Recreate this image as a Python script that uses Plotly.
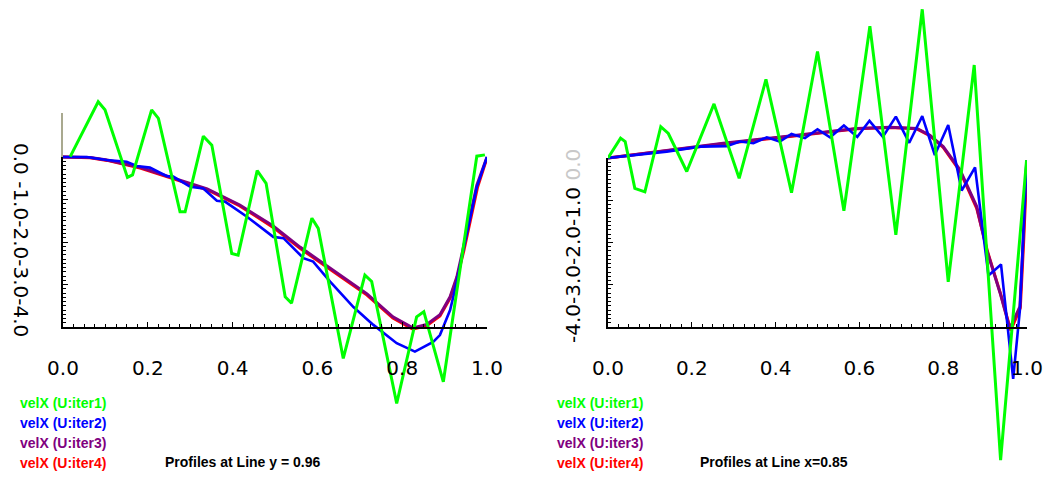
import plotly.graph_objects as go

# ---------------- data: left panel (Profiles at Line y = 0.96) ----------------
L_iter1_x = [0.017, 0.083, 0.099, 0.152, 0.164, 0.209, 0.225, 0.276, 0.288, 0.331, 0.351,
             0.398, 0.413, 0.458, 0.479, 0.524, 0.539, 0.587, 0.602, 0.661, 0.712, 0.728,
             0.787, 0.834, 0.851, 0.897, 0.976, 0.995]
L_iter1_y = [0.01, 1.30, 1.11, -0.48, -0.42, 1.11, 0.91, -1.29, -1.29, 0.49, 0.28,
             -2.27, -2.31, -0.32, -0.62, -3.29, -3.44, -1.44, -1.68, -4.74, -2.78, -2.93,
             -5.80, -3.76, -3.64, -5.29, 0.02, 0.05]

L_iter2_x = [0.0, 0.056, 0.103, 0.150, 0.174, 0.205, 0.245, 0.260, 0.300, 0.331, 0.363,
             0.382, 0.433, 0.496, 0.520, 0.567, 0.590, 0.630, 0.685, 0.732, 0.787, 0.830,
             0.873, 0.889, 0.913, 0.929, 0.944, 0.960, 0.976, 1.0]
L_iter2_y = [0.0, 0.0, -0.07, -0.11, -0.21, -0.25, -0.45, -0.46, -0.70, -0.74, -1.03,
             -1.05, -1.40, -1.88, -1.91, -2.38, -2.46, -2.93, -3.53, -3.95, -4.38, -4.58,
             -4.35, -4.19, -3.60, -2.93, -2.19, -1.48, -0.71, 0.0]

L_iter3_x = [0.0, 0.064, 0.104, 0.182, 0.259, 0.340, 0.417, 0.495, 0.559, 0.637, 0.717,
             0.778, 0.825, 0.858, 0.889, 0.913, 0.929, 0.943, 0.960, 0.976, 1.0]
L_iter3_y = [0.0, -0.01, -0.07, -0.24, -0.49, -0.75, -1.13, -1.62, -2.12, -2.66, -3.22,
             -3.76, -4.02, -3.94, -3.71, -3.29, -2.82, -2.19, -1.36, -0.66, 0.0]

L_iter4_x = [0.0, 0.064, 0.104, 0.182, 0.259, 0.340, 0.417, 0.495, 0.559, 0.637, 0.717,
             0.778, 0.825, 0.858, 0.889, 0.913, 0.929, 0.945, 0.962, 0.978, 1.0]
L_iter4_y = [0.0, -0.02, -0.08, -0.26, -0.51, -0.77, -1.15, -1.65, -2.15, -2.69, -3.25,
             -3.79, -4.05, -3.97, -3.74, -3.32, -2.86, -2.22, -1.40, -0.70, -0.02]

# ---------------- data: right panel (Profiles at Line x=0.85) ----------------
R_iter1_x = [0.0, 0.030, 0.041, 0.064, 0.088, 0.126, 0.144, 0.188, 0.253, 0.313, 0.377,
             0.438, 0.500, 0.563, 0.625, 0.687, 0.750, 0.812, 0.874, 0.937, 0.999]
R_iter1_y = [0.0, 0.47, 0.39, -0.72, -0.80, 0.74, 0.58, -0.32, 1.28, -0.48, 1.86,
             -0.82, 2.52, -1.25, 3.12, -1.82, 3.52, -2.93, 2.20, -7.15, -0.05]

R_iter2_x = [0.0, 0.060, 0.140, 0.220, 0.283, 0.315, 0.347, 0.379, 0.410, 0.438, 0.470,
             0.500, 0.530, 0.563, 0.595, 0.624, 0.656, 0.687, 0.719, 0.750, 0.780, 0.812,
             0.844, 0.876, 0.908, 0.938, 0.967, 0.983, 0.999]
R_iter2_y = [0.0, 0.07, 0.15, 0.27, 0.28, 0.39, 0.35, 0.49, 0.39, 0.57, 0.47,
             0.68, 0.49, 0.77, 0.50, 0.88, 0.50, 0.98, 0.36, 0.99, 0.07, 0.78,
             -0.77, -0.22, -2.78, -2.52, -5.23, -3.60, -0.05]

R_iter3_x = [0.0, 0.116, 0.275, 0.434, 0.594, 0.673, 0.737, 0.768, 0.800, 0.840, 0.880,
             0.904, 0.936, 0.959, 0.983, 0.991, 0.999]
R_iter3_y = [0.0, 0.15, 0.35, 0.52, 0.70, 0.73, 0.70, 0.54, 0.27, -0.28, -1.15,
             -2.18, -3.20, -4.03, -3.52, -1.94, -0.10]

R_iter4_x = [0.0, 0.116, 0.275, 0.434, 0.594, 0.673, 0.737, 0.768, 0.800, 0.840, 0.880,
             0.906, 0.938, 0.961, 0.984, 0.992, 1.0]
R_iter4_y = [0.0, 0.14, 0.34, 0.51, 0.69, 0.72, 0.69, 0.53, 0.25, -0.31, -1.19,
             -2.22, -3.25, -4.08, -3.55, -1.98, -0.12]

series_names = ["velX (U:iter1)", "velX (U:iter2)", "velX (U:iter3)", "velX (U:iter4)"]
series_colors = ["#00ff00", "#0000ff", "#800080", "#ff0000"]
titles = ["Profiles at Line y = 0.96", "Profiles at Line x=0.85"]
ytick_strings = ["0.0 -1.0-2.0-3.0-4.0", "-4.0-3.0-2.0-1.0 <span style='color:#c8c8c8'>0.0</span>"]

# ---------------- layout geometry (pixels) ----------------
W, H = 1046, 478
panels = [
    dict(x0=63, x1=487, ytop=157, ybot=327),
    dict(x0=608, x1=1027, ytop=158, ybot=327),
]

def fx(p):
    return p / W

def fy(p):
    return 1 - p / H

fig = go.Figure()

data_sets = [
    [(L_iter1_x, L_iter1_y), (L_iter2_x, L_iter2_y), (L_iter3_x, L_iter3_y), (L_iter4_x, L_iter4_y)],
    [(R_iter1_x, R_iter1_y), (R_iter2_x, R_iter2_y), (R_iter3_x, R_iter3_y), (R_iter4_x, R_iter4_y)],
]
draw_order = [3, 2, 1, 0]
widths = [3, 2.6, 3, 3]

for pi, pdat in enumerate(data_sets):
    xa = "x" if pi == 0 else "x2"
    ya = "y" if pi == 0 else "y2"
    for si in draw_order:
        xs, ys = pdat[si]
        fig.add_trace(go.Scatter(x=xs, y=ys, mode="lines", name=series_names[si],
                                 line=dict(color=series_colors[si], width=widths[si]),
                                 xaxis=xa, yaxis=ya, showlegend=False, hoverinfo="skip"))
    # empty trace that makes the tick (frame) subplot exist
    fig.add_trace(go.Scatter(x=[None], y=[None], mode="lines", xaxis=xa,
                             yaxis="y3" if pi == 0 else "y4", showlegend=False, hoverinfo="skip"))

font_ticks = dict(family="DejaVu Sans", size=20, color="black")

layout = dict(width=W, height=H, autosize=False,
              margin=dict(l=0, r=0, t=0, b=0, pad=0, autoexpand=False),
              paper_bgcolor="white", plot_bgcolor="rgba(0,0,0,0)", showlegend=False)

for pi, p in enumerate(panels):
    unit = (p["ybot"] - p["ytop"]) / 4.0
    data_top = p["ytop"] / unit
    data_bot = -(H - p["ytop"]) / unit
    xkey = "xaxis" if pi == 0 else "xaxis2"
    ykey = "yaxis" if pi == 0 else "yaxis2"
    fkey = "yaxis3" if pi == 0 else "yaxis4"
    xname = "x" if pi == 0 else "x2"
    fname = "y3" if pi == 0 else "y4"
    layout[xkey] = dict(domain=[fx(p["x0"]), fx(p["x1"])], range=[0, 1], anchor=fname,
                        showgrid=False, zeroline=False, showline=True, linecolor="black",
                        linewidth=1.5, ticks="inside", ticklen=5, tickwidth=1, tickcolor="black",
                        tick0=0, dtick=0.2, tickformat=".1f", tickfont=font_ticks,
                        ticklabelstandoff=22, automargin=False,
                        minor=dict(ticks="inside", ticklen=3, dtick=0.025, tickcolor="black",
                                   tickwidth=1, showgrid=False),
                        fixedrange=True)
    layout[ykey] = dict(domain=[0, 1], range=[data_bot, data_top], visible=False,
                        anchor=xname, fixedrange=True, automargin=False)
    layout[fkey] = dict(domain=[fy(p["ybot"]), fy(p["ytop"])], range=[-4, 0], anchor=xname,
                        showgrid=False, zeroline=False, showline=True, linecolor="black",
                        linewidth=1.5, ticks="inside", ticklen=5, tickwidth=1, tickcolor="black",
                        tick0=0, dtick=1, showticklabels=False, automargin=False,
                        minor=dict(ticks="inside", ticklen=3, dtick=0.1, tickcolor="black",
                                   tickwidth=1, showgrid=False),
                        fixedrange=True)

fig.update_layout(**layout)

annotations = []
# rotated y tick label strings
annotations.append(dict(x=fx(21), y=fy(240), xref="paper", yref="paper", text=ytick_strings[0],
                        textangle=90, showarrow=False, xanchor="center", yanchor="middle",
                        font=font_ticks))
annotations.append(dict(x=fx(573), y=fy(246), xref="paper", yref="paper", text=ytick_strings[1],
                        textangle=-90, showarrow=False, xanchor="center", yanchor="middle",
                        font=font_ticks))

legend_x = [18, 555]
title_x = [163, 698]
rows = [403, 423, 443, 463]
for pi in range(2):
    for si in range(4):
        annotations.append(dict(x=fx(legend_x[pi]), y=fy(rows[si]), xref="paper", yref="paper",
                                text=series_names[si], showarrow=False, xanchor="left",
                                yanchor="middle",
                                font=dict(family="Liberation Sans", size=14, weight="bold",
                                          color=series_colors[si])))
    annotations.append(dict(x=fx(title_x[pi]), y=fy(462), xref="paper", yref="paper",
                            text=titles[pi], showarrow=False, xanchor="left", yanchor="middle",
                            font=dict(family="Liberation Sans", size=14, weight="bold",
                                      color="black")))
fig.update_layout(annotations=annotations)

# short grey extension of the left y axis above 0
fig.add_shape(type="line", xref="paper", yref="paper", x0=fx(62), x1=fx(62), y0=fy(157), y1=fy(113),
              line=dict(color="#8c8c6a", width=1.5))

fig.write_html("out.html")
